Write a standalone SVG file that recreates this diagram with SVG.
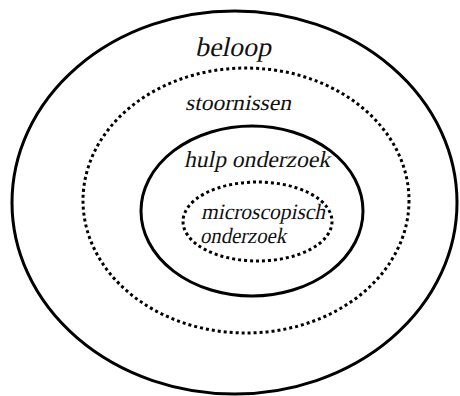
<svg xmlns="http://www.w3.org/2000/svg" width="460" height="396" viewBox="0 0 460 396">
<style>
.solid{fill:none;stroke:#000;stroke-width:3}
.dot{fill:none;stroke:#000;stroke-width:3;stroke-dasharray:3 3}
.t{font-family:"Liberation Serif","Times New Roman",serif;fill:#111}
</style>
<rect width="460" height="396" fill="#fff"/>
<g id="beloop">
<ellipse class="solid" cx="234.5" cy="202.5" rx="222.5" ry="191.5"/>
<text class="t" transform="translate(195,56) skewX(-12)" font-size="27" textLength="76" lengthAdjust="spacingAndGlyphs">beloop</text>
</g>
<g id="stoornissen">
<ellipse class="dot" cx="246" cy="200.5" rx="163" ry="132.5"/>
<text class="t" transform="translate(185,110) skewX(-12)" font-size="22" textLength="106" lengthAdjust="spacingAndGlyphs">stoornissen</text>
</g>
<g id="hulp-onderzoek">
<ellipse class="solid" cx="252" cy="211" rx="111" ry="85"/>
<text class="t" transform="translate(184,167) skewX(-12)" font-size="23" textLength="146" lengthAdjust="spacingAndGlyphs">hulp onderzoek</text>
</g>
<g id="microscopisch-onderzoek">
<ellipse class="dot" cx="257.5" cy="221.5" rx="74.5" ry="39.5"/>
<text class="t" transform="translate(201,219) skewX(-12)" font-size="22" textLength="124" lengthAdjust="spacingAndGlyphs">microscopisch</text>
<text class="t" transform="translate(200,243) skewX(-12)" font-size="22" textLength="86" lengthAdjust="spacingAndGlyphs">onderzoek</text>
</g>
<g id="connectors"/>
</svg>
